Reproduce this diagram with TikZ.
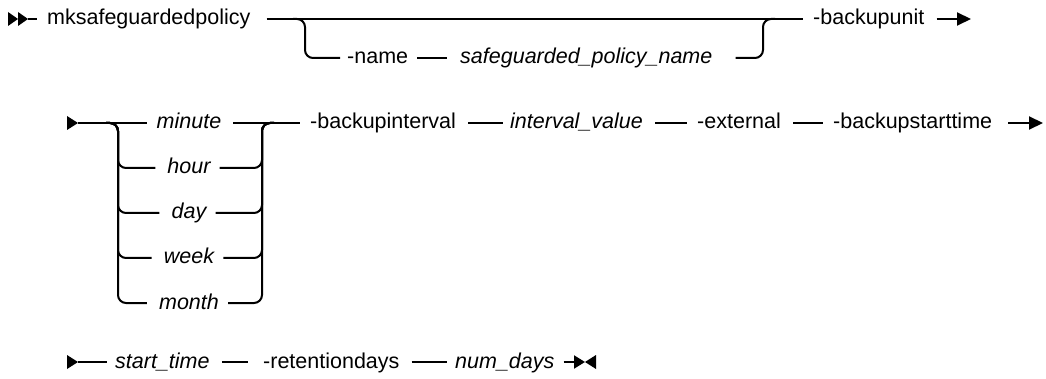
\documentclass[tikz,border=0pt]{standalone}
\usepackage{fontspec}
\setmainfont{Liberation Sans}
\usetikzlibrary{arrows.meta}
\begin{document}
\begin{tikzpicture}[x=1pt,y=-1pt,
  lbl/.style={inner xsep=0pt, inner ysep=0pt, text height=15pt, text depth=3pt, font=\fontsize{21.5}{25}\selectfont},
  kw/.style={lbl, anchor=west},
  var/.style={lbl, font=\fontsize{21.5}{25}\selectfont\itshape},
  varw/.style={var, anchor=west},
  conn/.style={line width=2pt, shorten <=12pt, shorten >=10pt},
  rc/.style={rounded corners=8pt},
  tip/.style={-{Triangle[length=14pt,width=13pt]}},
  tipe/.style={-{Triangle[length=11pt,width=13pt]}}
]
\useasboundingbox (0,0) rectangle (1046,379);

% ---------- row 1 ----------
\coordinate (s1) at (8,19);
\coordinate (s1b) at (28,19);
\fill (s1) ++(0,-7) -- ++(10,7) -- ++(-10,7) -- cycle;
\fill (s1) ++(10,-7) -- ++(10,7) -- ++(-10,7) -- cycle;
\node[kw] (cmd) at (47,19) {mksafeguardedpolicy};
\node[kw] (nm) at (347,58) {-name};
\node[varw] (sp) at (460,58) {safeguarded\_policy\_name};
\node[kw] (bu) at (813,19) {-backupunit};
\coordinate (e1) at (971,19);
\coordinate (j1) at (305,19);
\coordinate (j2) at (763,19);

\draw[conn, shorten <=0pt] (s1b) -- (cmd);
\draw[conn, shorten <=16pt] (cmd) -- (bu);
\draw[conn, rc, shorten <=0pt, shorten >=7pt] ([xshift=-12pt]j1) -- (j1) |- (nm);
\draw[conn, shorten <=9pt, shorten >=13pt] (nm) -- (sp);
\draw[conn, rc, shorten <=23pt, shorten >=0pt] (sp) -| (j2) -- ([xshift=12pt]j2);
\draw[conn, tip, shorten >=0pt] (bu) -- (e1);

% ---------- row 2 ----------
\coordinate (s2) at (67,123);
\coordinate (s2b) at (78,123);
\fill (s2) ++(0,-7) -- ++(11,7) -- ++(-11,7) -- cycle;
\node[var] (mi) at (189,123) {minute};
\node[var] (ho) at (189,168) {hour};
\node[var] (da) at (189,213) {day};
\node[var] (we) at (189,258) {week};
\node[var] (mo) at (189,303) {month};
\coordinate (lv) at (118,123);
\coordinate (rv) at (262,123);
\node[kw] (bi) at (310,123) {-backupinterval};
\node[varw] (iv) at (510,123) {interval\_value};
\node[kw] (ex) at (697,123) {-external};
\node[kw] (bst) at (833,123) {-backupstarttime};
\coordinate (e2) at (1043,123);

\draw[conn, shorten <=0pt] (s2b) -- (mi);
\foreach \o in {ho,da,we,mo}{
  \draw[conn, rc, shorten <=0pt, shorten >=12pt] ([xshift=-12pt]lv) -- (lv) |- (\o);
  \draw[conn, rc, shorten <=9pt, shorten >=0pt] (\o) -| (rv) -- ([xshift=12pt]rv);
}
\draw[conn] (mi) -- (bi);
\draw[conn, shorten >=7pt] (bi) -- (iv);
\draw[conn] (iv) -- (ex);
\draw[conn] (ex) -- (bst);
\draw[conn, tip, shorten <=16pt, shorten >=0pt] (bst) -- (e2);

% ---------- row 3 ----------
\coordinate (s3) at (67,362);
\coordinate (s3b) at (78,362);
\fill (s3) ++(0,-7) -- ++(11,7) -- ++(-11,7) -- cycle;
\node[varw] (st) at (115,362) {start\_time};
\node[kw] (rd) at (263,362) {-retentiondays};
\node[varw] (nd) at (455,362) {num\_days};
\coordinate (e3) at (585,362);

\draw[conn, shorten <=0pt, shorten >=8pt] (s3b) -- (st);
\draw[conn, shorten >=15pt] (st) -- (rd);
\draw[conn, shorten >=8pt] (rd) -- (nd);
\draw[conn, tipe, shorten <=9pt, shorten >=0pt] (nd) -- (e3);
\fill (e3) -- ++(11,-7) -- ++(0,14) -- cycle;
\end{tikzpicture}
\end{document}
